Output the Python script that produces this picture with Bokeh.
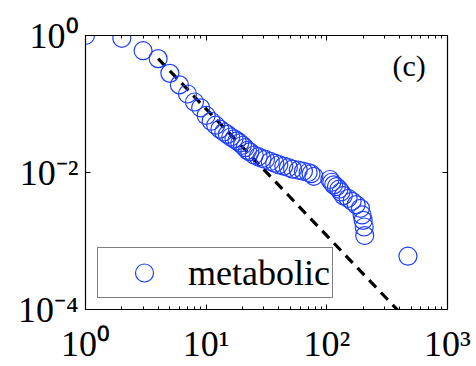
from bokeh.plotting import figure
from bokeh.models import LogAxis, FixedTicker, Legend, LegendItem, Label, Range1d
from bokeh.embed import file_html
from bokeh.resources import INLINE

degree = [1, 2, 3, 4, 5, 6, 7, 8, 9, 10,
          11, 12, 13, 14, 15, 16, 17, 18, 19, 20,
          21, 22, 23, 25, 27, 29, 31, 34, 37, 40,
          44, 48, 52, 58, 64, 70, 74, 78, 106, 110,
          114, 120, 126, 131, 137, 150, 162, 175, 190, 196,
          200, 204, 206, 470]
ccdf = [1.0, 0.91, 0.60, 0.46, 0.28, 0.19, 0.14, 0.107, 0.088, 0.068,
        0.056, 0.049, 0.043, 0.039, 0.036, 0.033, 0.031, 0.029, 0.027, 0.025,
        0.023, 0.021, 0.020, 0.018, 0.017, 0.016, 0.0155, 0.0145, 0.0137, 0.013,
        0.0124, 0.0118, 0.0112, 0.0108, 0.0104, 0.0100, 0.0096, 0.0088, 0.0079, 0.0072,
        0.0066, 0.0062, 0.0057, 0.0052, 0.0046, 0.0042, 0.0038, 0.0034, 0.0030, 0.0024,
        0.0020, 0.0016, 0.0012, 0.0006]
fit_x = [4.0, 400.0]
fit_y = [0.46, 9.2e-5]

x_ticks = [1, 10, 100, 1000]
x_tick_labels = ["10⁰", "10¹", "10²", "10³"]
x_minor = [2, 3, 4, 5, 6, 7, 8, 9, 20, 30, 40, 50, 60, 70, 80, 90,
           200, 300, 400, 500, 600, 700, 800, 900]
y_ticks = [0.0001, 0.01, 1]
y_tick_labels = ["10⁻⁴", "10⁻²", "10⁰"]
series_name = "metabolic"
panel_label = "(c)"

FONT = "Liberation Serif"

p = figure(width=476, height=366, x_axis_type="log", y_axis_type="log",
           x_range=Range1d(1, 1000), y_range=Range1d(0.0001, 1),
           output_backend="svg", toolbar_location=None,
           min_border_left=85, min_border_right=29,
           min_border_top=35, min_border_bottom=56)
p.xgrid.visible = False
p.ygrid.visible = False
p.outline_line_color = "black"
p.background_fill_color = "white"
p.border_fill_color = "white"

def style(ax, ticks, labels):
    ax.axis_line_color = "black"
    ax.axis_line_width = 1.2
    ax.major_tick_in = 5
    ax.major_tick_out = 0
    ax.minor_tick_in = 3
    ax.minor_tick_out = 0
    ax.major_tick_line_color = "black"
    ax.minor_tick_line_color = "black"
    ax.major_label_overrides = {t: s for t, s in zip(ticks, labels)}
    ax.major_label_text_font = FONT
    ax.major_label_text_font_size = "36px"
    ax.major_label_text_color = "black"

xa = p.xaxis[0]
xa.ticker = FixedTicker(ticks=x_ticks, minor_ticks=x_minor)
xa.major_label_standoff = 14
style(xa, x_ticks, x_tick_labels)

ya = p.yaxis[0]
ya.ticker = FixedTicker(ticks=y_ticks, minor_ticks=[])
ya.major_label_standoff = 7
style(ya, y_ticks, y_tick_labels)

top = LogAxis(ticker=FixedTicker(ticks=x_ticks, minor_ticks=x_minor))
style(top, x_ticks, ["" for _ in x_ticks])
top.major_label_text_font_size = "4px"
top.major_label_standoff = 0
p.add_layout(top, "above")
right = LogAxis(ticker=FixedTicker(ticks=y_ticks, minor_ticks=[]))
style(right, y_ticks, ["" for _ in y_ticks])
right.major_label_text_font_size = "4px"
right.major_label_standoff = 0
p.add_layout(right, "right")

p.line(fit_x, fit_y, line_color="black", line_width=3.2, line_dash="10 7")
r = p.scatter(degree, ccdf, marker="circle", size=18, fill_color=None,
              line_color="#1f3fff", line_width=1.2)

legend = Legend(items=[LegendItem(label=series_name, renderers=[r])],
                location=(12, 11), padding=2, glyph_width=88, glyph_height=45,
                label_standoff=0, spacing=0, margin=0,
                label_text_font=FONT, label_text_font_size="36px",
                label_text_color="black",
                border_line_color="black", border_line_width=1,
                background_fill_color="white", background_fill_alpha=1)
p.add_layout(legend)

p.add_layout(Label(x=307, y=244, x_units="screen", y_units="screen",
                   text=panel_label, text_font=FONT, text_font_size="30px",
                   text_baseline="middle", text_color="black"))

open("out.html", "w").write(file_html(p, INLINE))
